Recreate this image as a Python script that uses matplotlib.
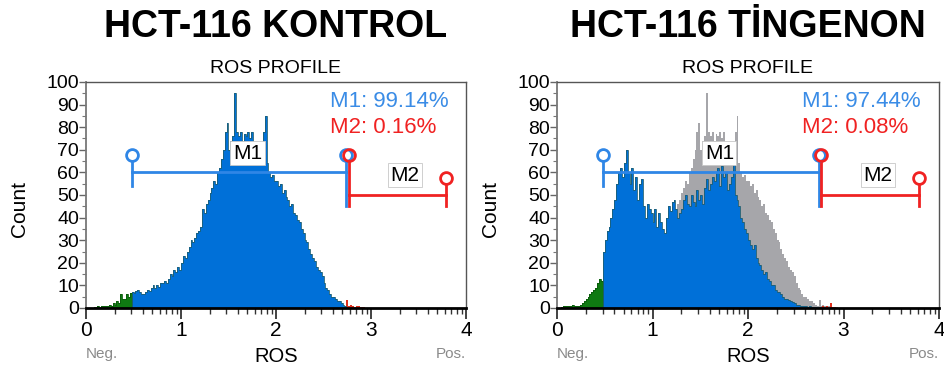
import numpy as np
import matplotlib
matplotlib.use('Agg')
from matplotlib import pyplot as plt
from matplotlib.ticker import FixedLocator, MultipleLocator

plt.rcParams['font.family'] = ['Liberation Sans', 'DejaVu Sans']

# ROS histogram channels, 0.02 decade wide, from 0 to 3 decades
bin_width = 0.02
control_counts = [
    0, 0, 0, 0, 0.3, 0.5, 0.8, 0.5, 1, 0.8,
    1, 1, 1.5, 1, 2, 1.5, 3, 2, 6, 4,
    4, 6, 5, 6.5, 7, 6.5, 7.5, 8, 7, 6,
    6, 7, 8, 7.5, 9, 10, 9, 10, 9.5, 11,
    11, 12, 11, 13, 15, 14, 17, 16, 18, 17,
    20, 23, 22, 25, 27, 30, 29, 31, 33, 34,
    36, 44, 42, 46, 48, 51, 53, 56, 55, 60,
    62, 66, 70, 78, 82, 70, 74, 76, 95, 78,
    76, 78, 74, 77, 76, 78, 75, 78, 72, 70,
    70, 68, 72, 78, 85, 64, 60, 58, 59, 56,
    56, 54, 55, 51, 52, 49, 48, 45, 46, 42,
    41, 39, 38, 35, 33, 30, 29, 26, 24, 22,
    21, 18, 17, 16, 14, 11, 9, 8, 6, 5,
    5, 4, 3, 3, 2, 1.5, 1, 3.5, 1, 1.5,
    1, 0.5, 1, 0.8, 0.5, 0.3, 0.3, 0, 0, 0,
]
tingenon_counts = [
    0, 0, 0.5, 1, 0.8, 1, 1, 0.8, 1.2, 1,
    1, 0.8, 1.5, 2, 3, 4, 5, 6, 7, 8,
    9, 11, 13, 12, 25, 30, 34, 36, 40, 44,
    48, 55, 60, 62, 58, 64, 70, 60, 55, 62,
    52, 58, 48, 55, 57, 45, 40, 46, 44, 42,
    38, 44, 36, 42, 38, 35, 33, 40, 45, 43,
    47, 48, 44, 40, 42, 44, 48, 50, 46, 45,
    50, 47, 45, 52, 48, 50, 46, 53, 57, 52,
    55, 58, 56, 60, 62, 54, 63, 58, 60, 52,
    55, 58, 66, 50, 48, 45, 40, 38, 35, 33,
    30, 28, 26, 28, 22, 20, 19, 17, 15, 16,
    13, 12, 10, 10, 8, 7, 7, 6, 5, 4,
    4, 3.5, 3, 2.5, 2, 1.5, 1.5, 1, 1, 0.8,
    0.8, 0.5, 0.8, 0.5, 0.5, 0.5, 0.3, 0.5, 0.3, 0.8,
    0.5, 0.8, 0.5, 2, 0.5, 0.3, 0, 0, 0, 0,
]

titles = ['HCT-116 KONTROL', 'HCT-116 T\u0130NGENON']
m1_labels = ['M1: 99.14%', 'M1: 97.44%']
m2_labels = ['M2: 0.16%', 'M2: 0.08%']

# marker gates (decades)
m1_gate = (0.48, 2.74)
m2_gate = (2.765, 3.79)

BLUE = '#0070d8'
OUTLINE = '#1d5f72'
GREEN = '#0f7a12'
RED = '#e0301e'
GRAY = '#a6a6aa'
M_BLUE = '#2f86e6'
M_RED = '#f02222'


def draw_hist(ax, counts, edges):
    counts = np.array(counts)
    i1 = int(round(m1_gate[0] / bin_width))
    i2 = int(round(m1_gate[1] / bin_width))
    ax.stairs(counts[:i1], edges[:i1 + 1], fill=True, color=GREEN, zorder=2)
    ax.stairs(counts[i1:i2], edges[i1:i2 + 1], fill=True, color=BLUE, zorder=2)
    ax.stairs(counts[i2:], edges[i2:], fill=True, color=RED, zorder=2)
    ax.stairs(counts[:i1], edges[:i1 + 1], color='#0b5a0c', lw=0.6, zorder=2)
    ax.stairs(counts[i1:i2], edges[i1:i2 + 1], color=OUTLINE, lw=0.6, zorder=2)


def draw_gates(ax):
    lo, hi = m1_gate
    ax.plot([lo, hi], [60, 60], color=M_BLUE, lw=2, zorder=3)
    ax.plot([lo, lo], [54, 67.7], color=M_BLUE, lw=2, zorder=3)
    ax.plot([hi, hi], [45, 67.7], color=M_BLUE, lw=2, zorder=3)
    ax.plot([lo, hi], [67.7, 67.7], 'o', mfc='white', mec=M_BLUE, ms=8.5, mew=2, zorder=4)

    lo2, hi2 = m2_gate
    ax.plot([lo2, hi2], [50, 50], color=M_RED, lw=2, zorder=3)
    ax.plot([lo2, lo2], [45, 67.7], color=M_RED, lw=2, zorder=3)
    ax.plot([hi2, hi2], [45, 57.4], color=M_RED, lw=2, zorder=3)
    ax.plot([lo2], [67.7], 'o', mfc='none', mec=M_RED, ms=8.5, mew=2, zorder=4)
    ax.plot([hi2], [57.4], 'o', mfc='white', mec=M_RED, ms=8.5, mew=2, zorder=4)

    box = dict(boxstyle='square,pad=0.12', facecolor='white', edgecolor='#c8c8c8', lw=0.6)
    ax.text(1.70, 68.4, 'M1', ha='center', va='center', fontsize=15, bbox=box, zorder=5)
    ax.text(3.36, 58.8, 'M2', ha='center', va='center', fontsize=15, bbox=box, zorder=5)


def style_axes(ax):
    ax.set_xlim(0, 4)
    ax.set_ylim(0, 100)
    ax.xaxis.set_major_locator(FixedLocator([0, 1, 2, 3, 4]))
    minors = [d + np.log10(k) for d in range(4) for k in range(2, 10)]
    ax.xaxis.set_minor_locator(FixedLocator(minors))
    ax.yaxis.set_major_locator(MultipleLocator(10))
    ax.yaxis.set_minor_locator(MultipleLocator(5))
    ax.tick_params(axis='x', which='major', length=8, width=1.2, pad=1, labelsize=15, color='#222222')
    ax.tick_params(axis='x', which='minor', length=4.5, width=1.0, color='#333333')
    ax.tick_params(axis='y', which='major', length=5, width=1.0, pad=0, labelsize=14, color='#666666')
    ax.tick_params(axis='y', which='minor', length=3, width=0.8, color='#777777')
    for side in ['top', 'right']:
        ax.spines[side].set_color('#555555')
        ax.spines[side].set_linewidth(1.0)
    ax.spines['left'].set_color('#777777')
    ax.spines['left'].set_linewidth(1.3)
    ax.spines['bottom'].set_color('black')
    ax.spines['bottom'].set_linewidth(2.0)
    ax.spines['bottom'].set_zorder(6)

    ax.text(0.5, 1 + 8.7 / 226, 'ROS PROFILE', transform=ax.transAxes,
            ha='center', va='baseline', fontsize=14)
    ax.text(0.5, -0.238, 'ROS', transform=ax.transAxes,
            ha='center', va='baseline', fontsize=14.5)
    ax.text(-0.175, 0.44, 'Count', transform=ax.transAxes, rotation=90,
            ha='center', va='center', fontsize=15)
    ax.text(0.0, -0.223, 'Neg.', transform=ax.transAxes,
            ha='left', va='baseline', fontsize=11, color='#8a8a8a')
    ax.text(1.0, -0.223, 'Pos.', transform=ax.transAxes,
            ha='right', va='baseline', fontsize=11, color='#8a8a8a')


def main():
    fig = plt.figure(figsize=(9.44, 3.69), dpi=100)
    ax1 = fig.add_axes([86 / 944, 61 / 369, 380 / 944, 226 / 369])
    ax2 = fig.add_axes([557 / 944, 61 / 369, 382 / 944, 226 / 369])

    edges = np.arange(len(control_counts) + 1) * bin_width

    # left: control
    draw_hist(ax1, control_counts, edges)
    # right: control in gray behind the treated sample
    ax2.stairs(control_counts, edges, fill=True, color=GRAY, zorder=1)
    draw_hist(ax2, tingenon_counts, edges)

    for ax, title, t1, t2 in zip([ax1, ax2], titles, m1_labels, m2_labels):
        style_axes(ax)
        draw_gates(ax)
        ax.text(2.57, 89, t1, ha='left', va='baseline', fontsize=16, color='#3a8ce6', zorder=5)
        ax.text(2.57, 77.3, t2, ha='left', va='baseline', fontsize=16, color=M_RED, zorder=5)
        ax.text(0.5, 1 + (82 - 37) / 226, title, transform=ax.transAxes,
                ha='center', va='baseline', fontsize=27, fontweight='bold')

    fig.savefig('out.png', dpi=100)


if __name__ == '__main__':
    main()
